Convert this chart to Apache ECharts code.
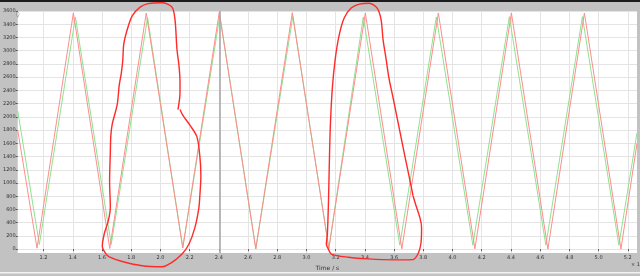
<!DOCTYPE html>
<html><head><meta charset="utf-8">
<script src="https://cdn.jsdelivr.net/npm/echarts@6/dist/echarts.min.js"></script>
<style>html,body{margin:0;padding:0;background:#c2c2c2}#c{width:640px;height:276px}</style>
</head><body><div id="c"></div>
<script>
// ---- data ----
var xTicks = [1.2,1.4,1.6,1.8,2.0,2.2,2.4,2.6,2.8,3.0,3.2,3.4,3.6,3.8,4.0,4.2,4.4,4.6,4.8,5.0,5.2];
var yTicks = [0,200,400,600,800,1000,1200,1400,1600,1800,2000,2200,2400,2600,2800,3000,3200,3400,3600];
var redT = [1.023,1.155,1.404,1.653,1.903,2.153,2.403,2.653,2.903,3.153,3.403,3.653,3.903,4.153,4.403,4.653,4.903,5.153,5.263];
var redV = [1800,15,3570,10,3570,20,3580,5,3575,10,3570,5,3570,5,3570,0,3570,0,1600];
var greenT = [1.023,1.171,1.418,1.663,1.912,2.153,2.407,2.653,2.907,3.153,3.389,3.639,3.889,4.139,4.389,4.639,4.889,5.139,5.263];
var greenV = [2090,70,3510,70,3500,20,3530,5,3520,10,3510,60,3510,60,3515,60,3515,60,1760];
var note1T = [2.120,2.134,2.134,2.127,2.113,2.100,2.079,2.011,1.916,1.861,1.807,1.773,1.749,1.742,1.732,1.718,1.704,1.670,1.660,1.657,1.652,1.657,1.643,1.616,1.602,1.623,1.650,1.739,1.875,2.011,2.079,2.148,2.195,2.236,2.263,2.270,2.277,2.270,2.250,2.202,2.154,2.134];
var note1V = [2110,2361,2538,2774,3025,3467,3659,3725,3711,3659,3526,3320,3098,2848,2656,2479,2184,1889,1697,1461,1018,634,428,236,44,-59,-118,-187,-251,-266,-199,-74,74,325,620,811,1107,1402,1697,1874,2021,2110];
var note2T = [3.729,3.702,3.674,3.647,3.620,3.593,3.565,3.545,3.524,3.511,3.484,3.429,3.361,3.306,3.259,3.225,3.197,3.177,3.163,3.156,3.150,3.143,3.136,3.150,3.170,3.286,3.422,3.599,3.647,3.729,3.763,3.783,3.788,3.777,3.749,3.729];
var note2V = [811,1107,1402,1697,1992,2287,2582,2877,3172,3467,3644,3718,3703,3644,3497,3246,2877,2434,1844,1254,664,221,74,0,-74,-122,-148,-162,-162,-158,-74,74,325,472,664,811];
var cursorT = [2.398,2.414];

function pairs(a,b){return a.map(function(t,i){return [t,b[i]];});}

var chart = echarts.init(document.getElementById('c'), null, {renderer:'canvas'});
chart.setOption({
  animation:false,
  backgroundColor:'#c2c2c2',
  grid:{left:15,right:3,top:11,bottom:17,show:true,backgroundColor:'#ffffff',borderWidth:0},
  xAxis:{type:'value',min:1.023,max:5.263,
    name:'Time / s',nameLocation:'middle',nameGap:10,
    nameTextStyle:{fontSize:6,color:'#333',fontFamily:'DejaVu Sans'},
    axisLine:{show:false},
    axisTick:{show:true,length:2,customValues:xTicks,lineStyle:{color:'#555'}},
    axisLabel:{customValues:xTicks,fontSize:5,color:'#333',margin:2,fontFamily:'DejaVu Sans',
      formatter:function(v){return v.toFixed(1);}},
    splitLine:{show:true,lineStyle:{color:'#e4e4e4',width:1}}
  },
  yAxis:{type:'value',min:-60,max:3600,
    axisLine:{show:false},
    axisTick:{show:true,length:2,customValues:yTicks,lineStyle:{color:'#555'}},
    axisLabel:{customValues:yTicks,fontSize:5,color:'#333',margin:2,fontFamily:'DejaVu Sans',
      formatter:function(v){return String(Math.round(v));}},
    splitLine:{show:true,lineStyle:{color:'#e4e4e4',width:1}}
  },
  series:[
    {type:'line',data:pairs(greenT,greenV),symbol:'none',lineStyle:{color:'#8fe28f',width:1},z:2},
    {type:'line',data:pairs(redT,redV),symbol:'none',lineStyle:{color:'#ff8c8c',width:1},z:3,
      markLine:{symbol:'none',silent:true,label:{show:false},lineStyle:{color:'#a8a8a8',width:0.8,type:'solid'},
        data:cursorT.map(function(t){return {xAxis:t};})}},
    {type:'line',data:pairs(note1T,note1V),symbol:'none',smooth:0.3,clip:false,lineStyle:{color:'#ff2a2a',width:1.4},z:10},
    {type:'line',data:pairs(note2T,note2V),symbol:'none',smooth:0.3,clip:false,lineStyle:{color:'#ff2a2a',width:1.4},z:10}
  ],
  graphic:[
    {type:'rect',shape:{x:0,y:0,width:640,height:2},style:{fill:'#1c1c1c'},z:-1},
    {type:'rect',shape:{x:0,y:272,width:640,height:1.5},style:{fill:'#f2f2f2'},z:-1},
    {type:'text',left:631,top:262,style:{text:'× 1e',fontSize:5,fill:'#333',fontFamily:'DejaVu Sans'}},
    {type:'text',left:16,top:11,style:{text:'◊',fontSize:7,fill:'#777',fontFamily:'DejaVu Sans'}}
  ]
});
</script></body></html>
